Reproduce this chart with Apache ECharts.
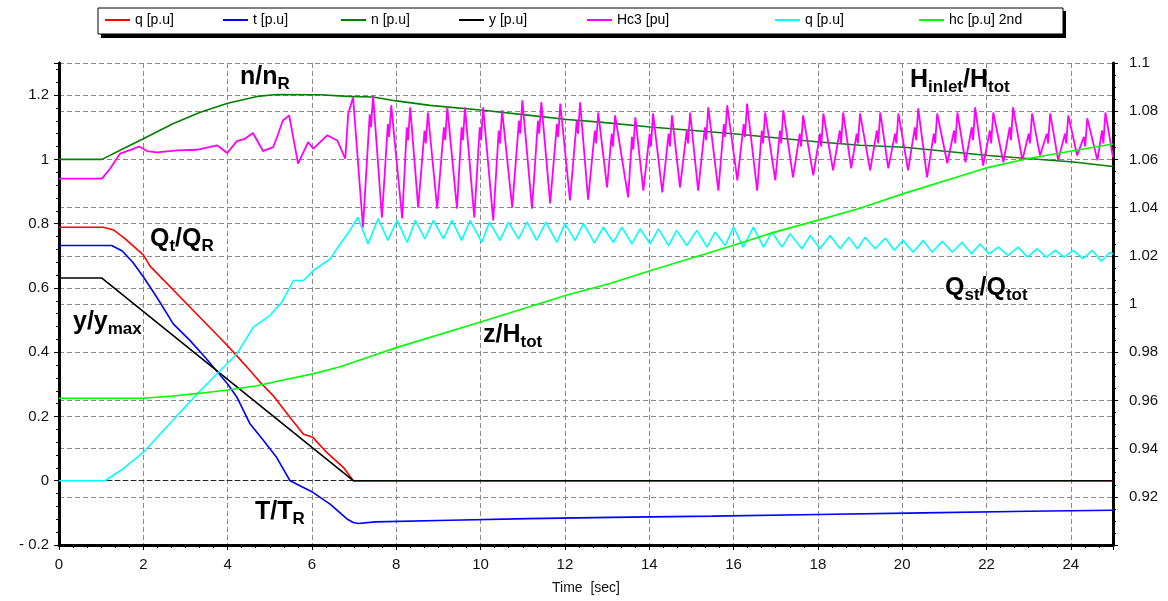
<!DOCTYPE html>
<html><head><meta charset="utf-8">
<script src="https://cdn.jsdelivr.net/npm/echarts@6/dist/echarts.min.js"></script>
<style>html,body{margin:0;padding:0;background:#fff}#c{width:1168px;height:601px}</style>
</head><body><div id="c"></div>
<script>
// ---- data (time [s], value) ----
const legendLabels = ['q [p.u]','t [p.u]','n [p.u]','y [p.u]','Hc3 [pu]','q [p.u]','hc [p.u] 2nd'];
const seriesIds = ['q','t','n','y','Hc3','q2','hc'];
const seriesColors = ['#ff0000','#0000ff','#008000','#000000','#ff00ff','#00ffff','#00ff00'];

const qData = [[0,0.789],[1.05,0.789],[1.3,0.78],[1.55,0.755],[2.0,0.703],[2.16,0.668],[3.11,0.54],[4.0,0.42],[4.25,0.384],[4.53,0.343],[4.81,0.301],[5.08,0.265],[5.48,0.197],[5.8,0.145],[6.02,0.135],[6.35,0.088],[6.75,0.041],[6.98,0],[25,0]];

const tData = [[0,0.732],[1.25,0.732],[1.5,0.715],[1.75,0.68],[2.0,0.635],[2.32,0.571],[2.71,0.488],[3.11,0.436],[3.5,0.379],[4.0,0.301],[4.22,0.26],[4.53,0.177],[4.85,0.125],[5.16,0.073],[5.48,0.0],[6.02,-0.036],[6.43,-0.073],[6.83,-0.119],[6.98,-0.13],[7.1,-0.133],[7.5,-0.128],[9.28,-0.123],[11.13,-0.118],[13.1,-0.114],[15.5,-0.11],[18,-0.105],[20.5,-0.1],[23,-0.095],[25,-0.092]];

const nData = [[0,1.0],[1.02,1.0],[1.52,1.033],[2.0,1.064],[2.7,1.111],[3.35,1.147],[4.0,1.175],[4.7,1.196],[5.17,1.202],[6.2,1.201],[6.83,1.196],[7.45,1.194],[8.0,1.182],[8.8,1.168],[10.06,1.153],[11.17,1.137],[12.05,1.124],[12.83,1.116],[14.02,1.101],[16.0,1.080],[18.03,1.054],[19.0,1.044],[20.05,1.038],[22.04,1.012],[24.06,0.992],[25,0.978]];

const yData = [[0,0.631],[1.01,0.631],[6.98,0],[25,0]];

const hc3Data = [[0,0.94],[1.02,0.94],[1.21,0.971],[1.45,1.018],[1.76,1.033],[1.9,1.04],[2.09,1.026],[2.32,1.022],[2.8,1.028],[3.27,1.03],[3.75,1.044],[3.99,1.02],[4.22,1.057],[4.41,1.064],[4.6,1.082],[4.84,1.026],[5.08,1.038],[5.17,1.069],[5.31,1.121],[5.46,1.137],[5.67,0.987],[5.91,1.054],[6.03,1.033],[6.36,1.075],[6.6,1.059],[6.79,1.002],[6.86,1.142],[6.975,1.193],
[7.21,0.788],[7.37,1.14],[7.40,1.10],[7.45,1.199],
[7.66,0.819],[7.80,1.11],[7.83,1.07],[7.88,1.168],
[8.14,0.816],[8.25,1.10],[8.28,1.06],[8.33,1.162],
[8.52,0.850],[8.67,1.09],[8.70,1.05],[8.75,1.146],
[8.97,0.847],[9.13,1.10],[9.16,1.06],[9.21,1.162],
[9.44,0.847],[9.55,1.10],[9.58,1.06],[9.63,1.162],
[9.85,0.819],[9.98,1.10],[10.01,1.06],[10.06,1.162],
[10.30,0.810],[10.43,1.09],[10.46,1.05],[10.51,1.153],
[10.75,0.850],[10.91,1.12],[10.94,1.08],[10.99,1.184],
[11.22,0.847],[11.36,1.12],[11.39,1.08],[11.44,1.178],
[11.65,0.863],[11.81,1.11],[11.84,1.07],[11.89,1.174],
[12.12,0.872],[12.28,1.12],[12.31,1.08],[12.36,1.178],
[12.55,0.875],[12.71,1.09],[12.74,1.05],[12.79,1.146],
[13.0,0.913],[13.11,1.08],[13.14,1.04],[13.19,1.137],
[13.50,0.882],[13.59,1.07],[13.62,1.03],[13.67,1.131],
[13.86,0.903],[14.01,1.08],[14.04,1.04],[14.09,1.143],
[14.31,0.897],[14.46,1.08],[14.49,1.04],[14.54,1.137],
[14.73,0.913],[14.89,1.09],[14.92,1.05],[14.97,1.146],
[15.16,0.903],[15.32,1.10],[15.35,1.06],[15.40,1.162],
[15.64,0.903],[15.77,1.11],[15.80,1.07],[15.85,1.168],
[16.09,0.935],[16.24,1.11],[16.27,1.07],[16.32,1.174],
[16.56,0.903],[16.67,1.09],[16.70,1.05],[16.75,1.146],
[16.99,0.935],[17.10,1.09],[17.13,1.05],[17.18,1.153],
[17.41,0.944],[17.57,1.08],[17.60,1.04],[17.65,1.137],
[17.89,0.950],[18.05,1.08],[18.08,1.04],[18.13,1.143],
[18.36,0.966],[18.52,1.09],[18.55,1.05],[18.60,1.146],
[18.79,0.972],[18.92,1.08],[18.95,1.05],[19.00,1.143],
[19.24,0.966],[19.40,1.09],[19.43,1.05],[19.48,1.146],
[19.67,0.972],[19.83,1.08],[19.86,1.05],[19.91,1.143],
[20.14,0.966],[20.30,1.10],[20.33,1.06],[20.38,1.159],
[20.59,0.944],[20.75,1.08],[20.78,1.05],[20.83,1.143],
[21.07,0.988],[21.23,1.09],[21.26,1.05],[21.31,1.146],
[21.50,0.991],[21.65,1.10],[21.68,1.06],[21.73,1.162],
[21.92,0.981],[22.08,1.09],[22.11,1.05],[22.16,1.146],
[22.40,0.991],[22.55,1.10],[22.58,1.06],[22.63,1.162],
[22.85,0.997],[23.00,1.08],[23.03,1.05],[23.08,1.143],
[23.27,1.012],[23.43,1.08],[23.46,1.05],[23.51,1.143],
[23.70,0.997],[23.86,1.08],[23.89,1.05],[23.94,1.137],
[24.15,1.012],[24.31,1.07],[24.34,1.04],[24.39,1.128],
[24.63,0.997],[24.74,1.09],[24.77,1.05],[24.82,1.146],
[25,1.006]];

const q2Data = [[0,0],[1.09,0],[1.5,0.035],[2.0,0.088],[2.71,0.19],[3.35,0.28],[3.78,0.337],[4.22,0.395],[4.61,0.478],[5.0,0.514],[5.28,0.555],[5.56,0.623],[5.8,0.623],[6.03,0.654],[6.43,0.69],[6.67,0.737],[6.9,0.779],[7.09,0.82],
[7.33,0.737],[7.57,0.816],[7.80,0.748],[8.02,0.81],[8.26,0.742],[8.45,0.81],[8.68,0.753],[8.88,0.81],[9.12,0.753],[9.32,0.81],[9.55,0.748],[9.75,0.81],[10.03,0.742],[10.21,0.805],[10.46,0.748],[10.66,0.805],[10.90,0.753],[11.10,0.805],[11.33,0.748],[11.55,0.805],[11.81,0.742],[12.0,0.80],[12.24,0.748],[12.44,0.80],[12.70,0.740],[12.91,0.789],[13.15,0.742],[13.35,0.789],[13.59,0.737],[13.78,0.784],[14.02,0.737],[14.22,0.784],[14.46,0.732],[14.65,0.779],[14.89,0.732],[15.13,0.779],[15.37,0.727],[15.56,0.774],[15.80,0.732],[16.0,0.789],[16.23,0.727],[16.47,0.789],[16.71,0.727],[16.91,0.774],[17.15,0.727],[17.34,0.769],[17.62,0.722],[17.82,0.763],[18.05,0.722],[18.29,0.763],[18.53,0.722],[18.73,0.758],[18.94,0.722],[19.12,0.758],[19.36,0.722],[19.60,0.755],[19.81,0.717],[20.02,0.748],[20.26,0.711],[20.50,0.748],[20.71,0.711],[20.95,0.745],[21.19,0.711],[21.42,0.742],[21.64,0.706],[21.85,0.737],[22.06,0.706],[22.28,0.727],[22.51,0.701],[22.75,0.727],[22.97,0.696],[23.20,0.722],[23.42,0.696],[23.63,0.717],[23.84,0.696],[24.06,0.717],[24.29,0.691],[24.51,0.717],[24.72,0.683],[24.93,0.711],[25,0.705]];

const hcData = [[0,0.9609],[2.0,0.9609],[2.7,0.9618],[3.35,0.963],[4.0,0.9643],[4.69,0.9661],[5.32,0.9685],[6.02,0.971],[6.67,0.974],[7.14,0.9768],[8.02,0.982],[10.04,0.9927],[12.05,1.0037],[13.07,1.0085],[14.02,1.0138],[16.02,1.0245],[16.87,1.0293],[18.03,1.0349],[19.0,1.0397],[20.05,1.0459],[22.05,1.0567],[22.96,1.0603],[24.05,1.0636],[25,1.0664]];

const allData = [qData,tData,nData,yData,hc3Data,q2Data,hcData];
const yAxisOf = [0,0,0,0,0,0,1];
const lineWidths = [1.6,1.6,1.6,1.6,1.8,1.6,1.6];

// axes ranges
const xRange = [0,25], xStep = 2;
const leftRange = [-0.2,1.3], leftStep = 0.2;
const rightRange = [0.9,1.1], rightStep = 0.02;

// annotation texts: [left, baseline, parts]
const annotations = [
  [240, 85, [['n/n',0],['R',1]]],
  [910, 88, [['H',0],['inlet',1],['/H',0],['tot',1]]],
  [150, 247, [['Q',0],['t',1],['/Q',0],['R',1]]],
  [73, 330, [['y/y',0],['max',1]]],
  [483, 343, [['z/H',0],['tot',1]]],
  [945, 296, [['Q',0],['st',1],['/Q',0],['tot',1]]],
  [255, 520, [['T/T',0],['R',1]]]
];
const legendLefts = [105,223,341,459,587,775,919];

// ---- chart ----
const FONT = 'Liberation Sans, Arial, sans-serif';
const chart = echarts.init(document.getElementById('c'), null, {renderer:'canvas'});
const ctx = document.createElement('canvas').getContext('2d');
const MAIN = 25, SUB = 17;
const mainFont = 'bold ' + MAIN + 'px Liberation Sans';
const subFont = 'bold ' + SUB + 'px Liberation Sans';
function measure(t, f){ ctx.font = f; return ctx.measureText(t).width; }

const graphics = [
  {type:'rect', z:1, shape:{x:101,y:11,width:965,height:27}, style:{fill:'#000'}},
  {type:'rect', z:2, shape:{x:98,y:8,width:965,height:26}, style:{fill:'#fff',stroke:'#000',lineWidth:1}}
];
annotations.forEach(([x0, base, parts]) => {
  let x = x0;
  parts.forEach(([txt, sub]) => {
    const f = sub ? subFont : mainFont;
    const sz = sub ? SUB : MAIN;
    graphics.push({type:'text', z:10, x:x, y: (sub ? base + 4 : base) + Math.round(sz * 0.21),
      style:{text:txt, font:f, fill:'#000', verticalAlign:'bottom', align:'left'}});
    x += measure(txt, f);
  });
});

const gridLine = {show:true, lineStyle:{color:'#8a8a8a', type:[5,3], width:1}};
const axisLineStyle = {show:true, onZero:false, lineStyle:{color:'#000', width:3}};
const labelStyle = {color:'#111', fontSize:15, fontFamily:FONT};

const option = {
  animation:false,
  backgroundColor:'#fff',
  grid:{left:59, right:55, top:63, bottom:56, containLabel:false},
  legend: seriesIds.map((id,i) => ({
    data:[id], left:legendLefts[i], top:13, itemWidth:25, itemHeight:2, icon:'rect',
    selectedMode:false, padding:0, z:5,
    formatter:() => legendLabels[i],
    textStyle:{fontSize:14, color:'#000', fontFamily:FONT}
  })),
  graphic: graphics,
  xAxis:[{
    type:'value', min:xRange[0], max:xRange[1], interval:xStep,
    name:'Time  [sec]', nameLocation:'middle', nameGap:36,
    nameTextStyle:{fontSize:14, color:'#111', fontFamily:FONT},
    axisLine:axisLineStyle,
    axisTick:{show:true, length:5, lineStyle:{color:'#000'}},
    minorTick:{show:true, splitNumber:6, length:3, lineStyle:{color:'#000'}},
    axisLabel:Object.assign({margin:12, showMaxLabel:false}, labelStyle),
    splitLine:gridLine
  },{
    type:'value', position:'top', min:xRange[0], max:xRange[1],
    axisLine:{show:true, lineStyle:{color:'#222', width:1, type:[5,3]}},
    axisTick:{show:false}, axisLabel:{show:false}, splitLine:{show:false}
  }],
  yAxis:[{
    type:'value', min:leftRange[0], max:leftRange[1], interval:leftStep,
    axisLine:axisLineStyle,
    axisTick:{show:true, length:5, lineStyle:{color:'#000'}},
    minorTick:{show:true, splitNumber:5, length:3, lineStyle:{color:'#000'}},
    axisLabel:Object.assign({margin:10, showMaxLabel:false,
      formatter:v => v < 0 ? '- ' + (+(-v).toFixed(2)) : String(+v.toFixed(2))}, labelStyle),
    splitLine:gridLine
  },{
    type:'value', position:'right', min:rightRange[0], max:rightRange[1], interval:rightStep,
    axisLine:axisLineStyle,
    axisTick:{show:true, length:5, lineStyle:{color:'#000'}},
    minorTick:{show:true, splitNumber:4, length:3, lineStyle:{color:'#000'}},
    axisLabel:Object.assign({margin:16, showMinLabel:false,
      formatter:v => String(+v.toFixed(2))}, labelStyle),
    splitLine:gridLine
  }],
  series: seriesIds.map((id,i) => ({
    name:id, type:'line', data:allData[i], yAxisIndex:yAxisOf[i], xAxisIndex:0,
    symbol:'none', showSymbol:false, smooth:false, z:3,
    itemStyle:{color:seriesColors[i]},
    lineStyle:{color:seriesColors[i], width:lineWidths[i]}
  }))
};
chart.setOption(option);
</script>
</body></html>
